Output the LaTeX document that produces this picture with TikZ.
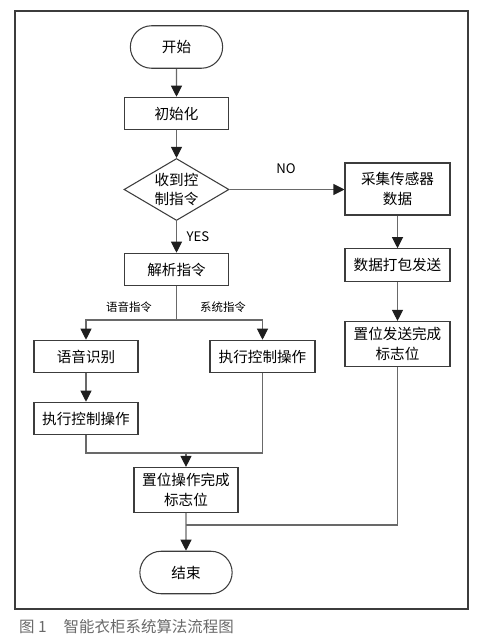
\documentclass[tikz,border=0pt]{standalone}
\usepackage{fontspec}
\setmainfont{Noto Sans CJK SC}
\usepackage{tikz}
\usetikzlibrary{shapes.geometric,shapes.misc,arrows.meta}
\definecolor{boxline}{RGB}{60,60,60}
\definecolor{wireline}{RGB}{105,105,105}
\definecolor{tipfill}{RGB}{30,30,30}
\definecolor{captext}{RGB}{105,105,105}
\pgfdeclarelayer{edgelayer}
\pgfdeclarelayer{nodelayer}
\pgfsetlayers{edgelayer,nodelayer,main}
\tikzstyle{none}=[inner sep=0pt]
\tikzstyle{terminal}=[rounded rectangle,draw=boxline,fill=white,line width=0.6pt,minimum width=2.08cm,minimum height=0.85cm,font=\fontsize{8.3}{11}\selectfont]
\tikzstyle{process}=[rectangle,draw=boxline,fill=white,line width=0.6pt,minimum width=2.08cm,minimum height=0.65cm,align=center,font=\fontsize{8.3}{11.3}\selectfont]
\tikzstyle{decision}=[diamond,aspect=1.69,draw=boxline,fill=white,line width=0.6pt,inner sep=0pt,minimum width=2.1cm,minimum height=1.24cm,align=center,font=\fontsize{8.3}{11.3}\selectfont]
\tikzstyle{flow}=[-{Triangle[length=0.22cm,width=0.22cm,color=tipfill]},draw=wireline,line width=0.6pt]
\tikzstyle{wire}=[-,draw=wireline,line width=0.6pt]
\tikzstyle{edgelabel}=[inner sep=1pt,font=\fontsize{7.5}{9}\selectfont]
\tikzstyle{branchlabel}=[inner sep=1pt,font=\fontsize{6.5}{8}\selectfont]

\begin{document}
\begin{tikzpicture}
	\useasboundingbox (0,0) rectangle (10,-12.82);
	\begin{pgfonlayer}{nodelayer}
		\node [style=terminal] (start) at (3.53, -0.94) {开始};
		\node [style=process] (init) at (3.53, -2.27) {初始化};
		\node [style=decision] (recv) at (3.53, -3.79) {收到控\\制指令};
		\node [style=process, minimum width=2.1cm, minimum height=1.04cm] (collect) at (7.95, -3.78) {采集传感器\\数据};
		\node [style=process, minimum width=2.1cm] (pack) at (7.95, -5.30) {数据打包发送};
		\node [style=process, minimum width=2.1cm, minimum height=0.84cm] (setsend) at (7.95, -6.88) {置位发送完成\\标志位};
		\node [style=process] (parse) at (3.53, -5.39) {解析指令};
		\node [style=process] (voice) at (1.72, -7.13) {语音识别};
		\node [style=process, minimum width=2.1cm] (execR) at (5.25, -7.13) {执行控制操作};
		\node [style=process] (execL) at (1.72, -8.37) {执行控制操作};
		\node [style=process, minimum height=0.84cm] (setop) at (3.72, -9.80) {置位操作完成\\标志位};
		\node [style=terminal] (stop) at (3.72, -11.45) {结束};

		\coordinate (split) at (3.53, -6.40);
		\coordinate (merge) at (3.72, -9.06);
		\coordinate (join) at (3.72, -10.50);

		\node [style=edgelabel] (no) at (5.72, -3.38) {NO};
		\node [style=edgelabel] (yes) at (3.96, -4.74) {YES};
		\node [style=branchlabel] (vcmd) at (2.58, -6.14) {语音指令};
		\node [style=branchlabel] (scmd) at (4.46, -6.14) {系统指令};

		\node [anchor=west, text=captext, font=\fontsize{8.8}{10}\selectfont] (cap) at (0.26, -12.54) {图 1\hspace{1.1em}智能衣柜系统算法流程图};
	\end{pgfonlayer}
	\begin{pgfonlayer}{edgelayer}
		\draw [draw=boxline, line width=0.7pt] (0.30, -0.22) rectangle (9.36, -12.18);
		\draw [style=flow] (start) to (init);
		\draw [style=flow] (init) to (recv);
		\draw [style=flow] (recv.east) to (recv.east -| collect.west);
		\draw [style=flow] (collect) to (pack);
		\draw [style=flow] (pack) to (setsend);
		\draw [style=flow] (recv) to (parse);
		\draw [style=wire] (parse) to (split);
		\draw [style=flow] (split) -| (voice);
		\draw [style=flow] (split) -| (execR);
		\draw [style=flow] (voice) to (execL);
		\draw [style=wire] (execL) |- (merge);
		\draw [style=wire] (execR) |- (merge);
		\draw [style=flow] (merge) to (setop);
		\draw [style=flow] (setop) to (stop);
		\draw [style=wire] (setsend) |- (join);
	\end{pgfonlayer}
\end{tikzpicture}
\end{document}
